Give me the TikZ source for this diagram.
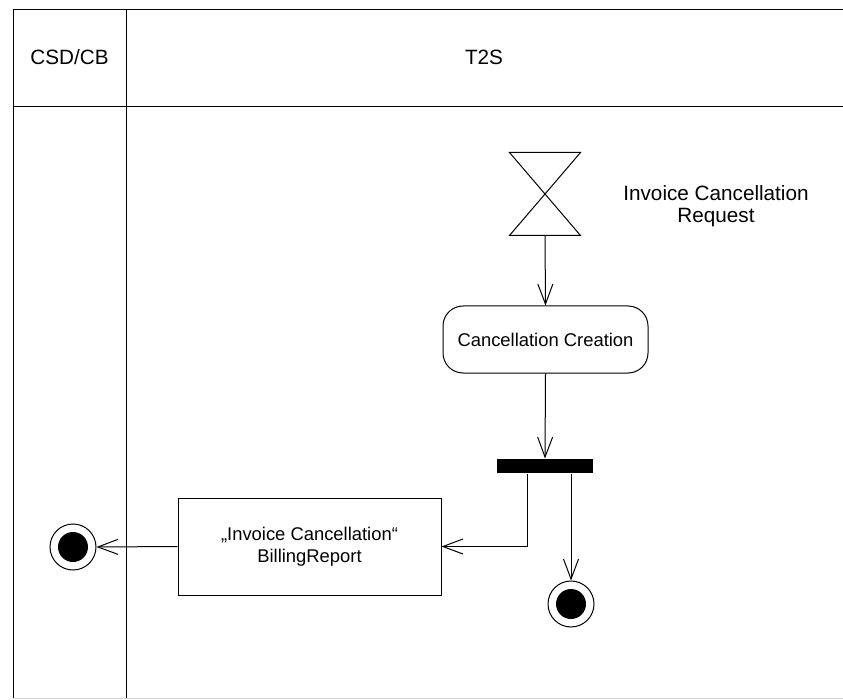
\documentclass[tikz,border=0pt]{standalone}
\usepackage{fontspec}
\setmainfont{Liberation Sans}
\usetikzlibrary{arrows.meta}
\begin{document}
\begin{tikzpicture}[x=1pt,y=-1pt,
  line width=1pt,
  flow/.style={-{Straight Barb[length=20pt,width=15pt,line width=1pt]}},
  nodetext/.style={font=\fontsize{18.4}{22}\selectfont, align=center},
  bigtext/.style={font=\fontsize{20.7}{22}\selectfont, align=center},
  action/.style={draw, rounded corners=20pt, minimum width=205pt, minimum height=67pt, nodetext},
  objbox/.style={draw, minimum width=263pt, minimum height=97pt, nodetext},
  finalstate/.style={circle, draw, minimum size=46pt, inner sep=0pt},
  bar/.style={fill=black, minimum width=96pt, minimum height=14pt, inner sep=0pt}
]
\useasboundingbox (0,0) rectangle (843,700);
\fill[white] (0,0) rectangle (843,700);
% swimlane frame
\draw (13,10) -- (843,10);
\draw (13,107) -- (843,107);
\draw (13,10) -- (13,698);
\draw (126,10) -- (126,698);
\draw[gray!35] (13,698.5) -- (843,698.5);
\node[bigtext] (lane1) at (69.5,57) {CSD/CB};
\node[bigtext] (lane2) at (484,57) {T2S};
% hourglass (time event)
\node[minimum width=70pt, minimum height=82pt, inner sep=0pt] (req) at (545,194) {};
\draw (req.north west) -- (req.north east) -- (req.south west) -- (req.south east) -- cycle;
\node[bigtext] (reqlabel) at (716,206) {Invoice Cancellation\\Request};
% action
\node[action] (cc) at (545.5,339.5) {Cancellation Creation};
% fork bar
\node[bar] (fork) at (545,466) {};
% object box
\node[objbox] (box) at (309.5,546.5) {„Invoice Cancellation“\\BillingReport};
% final states
\node[finalstate] (fin1) at (73,547) {};
\fill (fin1.center) circle (15pt);
\node[finalstate] (fin2) at (571,604) {};
\fill (fin2.center) circle (15pt);
% connectors
\draw[flow] (req.south) -- (cc.north);
\draw[flow] (cc.south) -- (fork.north);
\draw[flow] ([xshift=-18pt]fork.south) |- (box.east);
\draw[flow] ([xshift=26pt]fork.south) -- (fin2.north);
\draw[flow] (box.west) -- (fin1.east);
\end{tikzpicture}
\end{document}
